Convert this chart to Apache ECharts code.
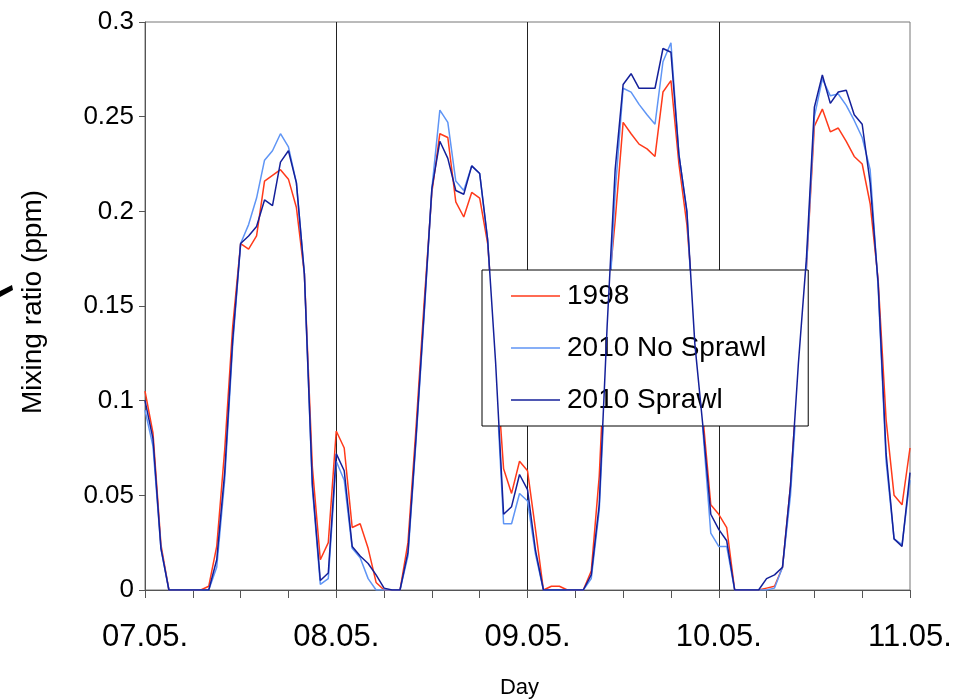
<!DOCTYPE html>
<html>
<head>
<meta charset="utf-8">
<script src="https://cdn.jsdelivr.net/npm/echarts@6/dist/echarts.min.js"></script>
<style>
html,body{margin:0;padding:0;background:#fff;}
#chart{width:961px;height:700px;}
</style>
</head>
<body>
<div id="chart"></div>
<script>
// x axis: hours since 07.05. 00:00 (hourly samples, 4 days)
const dayLabels = ['07.05.', '08.05.', '09.05.', '10.05.', '11.05.'];
const dayBoundaries = [24, 48, 72];
const yTicks = [0, 0.05, 0.1, 0.15, 0.2, 0.25, 0.3];
const seriesNames = ['1998', '2010 No Sprawl', '2010 Sprawl'];

const values1998 = [
  0.105, 0.083, 0.024, 0, 0, 0, 0, 0, 0.002, 0.023, 0.074, 0.139, 0.183, 0.180, 0.187, 0.216, 0.219, 0.222, 0.217, 0.202, 0.167, 0.065, 0.016, 0.025,
  0.084, 0.075, 0.033, 0.035, 0.022, 0.004, 0, 0, 0, 0.025, 0.085, 0.150, 0.210, 0.241, 0.239, 0.205, 0.197, 0.210, 0.207, 0.183, 0.125, 0.064, 0.051, 0.068,
  0.063, 0.032, 0, 0.002, 0.002, 0, 0, 0, 0.010, 0.060, 0.150, 0.195, 0.247, 0.241, 0.2355, 0.233, 0.229, 0.263, 0.269, 0.225, 0.193, 0.140, 0.092, 0.045,
  0.040, 0.033, 0, 0, 0, 0, 0.001, 0.002, 0.012, 0.055, 0.120, 0.170, 0.245, 0.254, 0.242, 0.244, 0.237, 0.229, 0.225, 0.204, 0.164, 0.090, 0.050, 0.045,
  0.075
];
const valuesNoSprawl = [
  0.095, 0.076, 0.022, 0, 0, 0, 0, 0, 0, 0.012, 0.058, 0.129, 0.183, 0.193, 0.207, 0.227, 0.232, 0.241, 0.234, 0.215, 0.167, 0.054, 0.003, 0.006,
  0.068, 0.058, 0.022, 0.017, 0.006, 0, 0, 0, 0, 0.018, 0.078, 0.143, 0.212, 0.2535, 0.247, 0.216, 0.211, 0.224, 0.220, 0.185, 0.115, 0.035, 0.035, 0.051,
  0.047, 0.019, 0, 0, 0, 0, 0, 0, 0.006, 0.042, 0.130, 0.210, 0.265, 0.263, 0.2565, 0.251, 0.246, 0.279, 0.289, 0.230, 0.200, 0.125, 0.085, 0.030,
  0.023, 0.023, 0, 0, 0, 0, 0, 0.001, 0.012, 0.050, 0.115, 0.170, 0.250, 0.270, 0.261, 0.262, 0.256, 0.248, 0.239, 0.222, 0.160, 0.068, 0.027, 0.024,
  0.058
];
const valuesSprawl = [
  0.100, 0.080, 0.022, 0, 0, 0, 0, 0, 0, 0.016, 0.062, 0.132, 0.183, 0.187, 0.192, 0.206, 0.203, 0.226, 0.232, 0.215, 0.167, 0.056, 0.005, 0.009,
  0.072, 0.063, 0.023, 0.018, 0.014, 0.008, 0.001, 0, 0, 0.020, 0.080, 0.145, 0.212, 0.237, 0.228, 0.211, 0.209, 0.224, 0.220, 0.185, 0.120, 0.040, 0.044, 0.061,
  0.053, 0.021, 0, 0, 0, 0, 0, 0, 0.008, 0.045, 0.140, 0.222, 0.267, 0.2727, 0.265, 0.265, 0.265, 0.286, 0.284, 0.230, 0.200, 0.130, 0.087, 0.040,
  0.032, 0.026, 0, 0, 0, 0, 0.006, 0.008, 0.012, 0.055, 0.120, 0.175, 0.255, 0.272, 0.257, 0.263, 0.264, 0.251, 0.246, 0.215, 0.162, 0.072, 0.027, 0.023,
  0.062
];

const colors = ['#ff3a1a', '#5f95f5', '#14209a'];
const FONT = "'Liberation Sans', Arial, sans-serif";

function toPairs(arr) { return arr.map((v, i) => [i, v]); }

const chart = echarts.init(document.getElementById('chart'), null, { renderer: 'canvas' });

const allValues = [values1998, valuesNoSprawl, valuesSprawl];
const series = allValues.map((vals, k) => ({
  name: seriesNames[k],
  type: 'line',
  data: toPairs(vals),
  symbol: 'none',
  showSymbol: false,
  lineStyle: { color: colors[k], width: 1.5 },
  itemStyle: { color: colors[k] },
  z: 2 + k,
  silent: true,
  markLine: k === 0 ? {
    silent: true,
    symbol: 'none',
    label: { show: false },
    lineStyle: { color: '#222', width: 1, type: 'solid' },
    data: dayBoundaries.map(d => ({ xAxis: d })),
    animation: false,
    z: 1
  } : undefined
}));

chart.setOption({
  animation: false,
  backgroundColor: '#fff',
  textStyle: { fontFamily: FONT },
  grid: {
    left: 145, right: 51, top: 22, bottom: 110,
    containLabel: false,
    outerBoundsMode: 'none',
    show: true, borderColor: '#777', borderWidth: 1, backgroundColor: 'transparent'
  },
  legend: {
    orient: 'vertical',
    left: 482, top: 270,
    padding: [11, 42, 11, 29],
    itemGap: 22,
    itemWidth: 49,
    itemHeight: 1.5,
    icon: 'rect',
    backgroundColor: '#fff',
    borderColor: '#000',
    borderWidth: 1,
    borderRadius: 0,
    selectedMode: false,
    data: seriesNames,
    textStyle: { fontSize: 28, lineHeight: 30, color: '#000', fontFamily: FONT, padding: [0, 0, 0, 2] }
  },
  xAxis: {
    type: 'value',
    min: 0, max: 96, interval: 6,
    name: 'Day',
    nameLocation: 'middle',
    nameGap: 87,
    nameTextStyle: { fontSize: 22, color: '#000', fontFamily: FONT, padding: [0, 16, 0, 0] },
    axisLine: { show: true, lineStyle: { color: '#555', width: 1 } },
    axisTick: { show: true, inside: false, length: 8, lineStyle: { color: '#555' } },
    splitLine: { show: false },
    axisLabel: {
      fontSize: 31, color: '#000', margin: 32, fontFamily: FONT,
      formatter: v => (v % 24 === 0 ? dayLabels[v / 24] : '')
    }
  },
  yAxis: {
    type: 'value',
    min: yTicks[0], max: yTicks[yTicks.length - 1], interval: 0.05,
    name: 'Mixing ratio (ppm)',
    nameLocation: 'middle',
    nameGap: 98,
    nameRotate: 90,
    nameTextStyle: { fontSize: 28, color: '#000', fontFamily: FONT, padding: [0, 0, 0, 8] },
    axisLine: { show: true, lineStyle: { color: '#555', width: 1 } },
    axisTick: { show: true, inside: false, length: 6, lineStyle: { color: '#555' } },
    splitLine: { show: false },
    axisLabel: {
      fontSize: 26, color: '#000', margin: 11, fontFamily: FONT,
      formatter: v => String(parseFloat(v.toFixed(2)))
    }
  },
  graphic: [{
    type: 'polygon',
    shape: { points: [[0, 291], [12, 285], [13, 290], [0, 297]] },
    style: { fill: '#000' },
    silent: true
  }],
  series: series
});
</script>
</body>
</html>
